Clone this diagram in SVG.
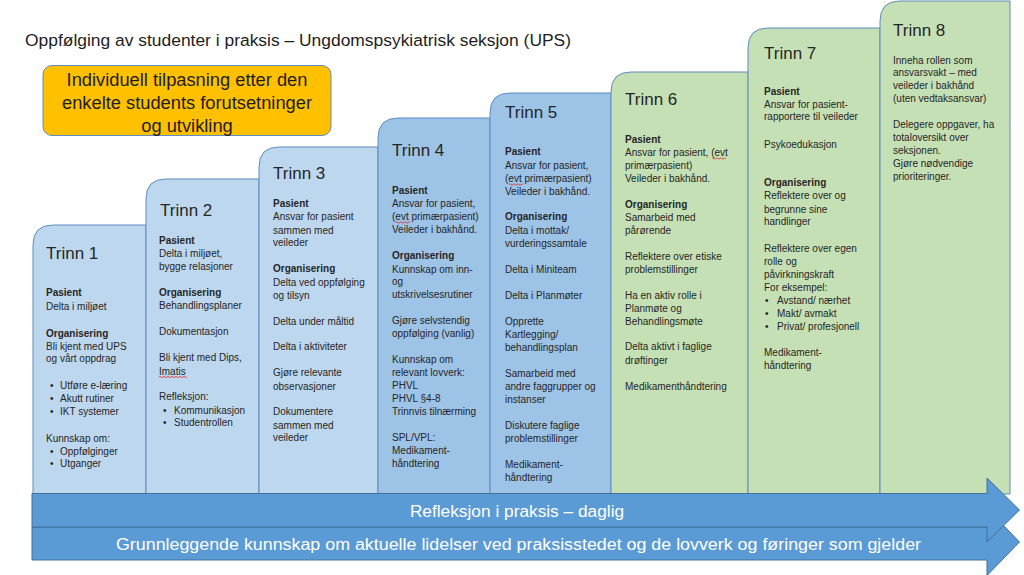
<svg xmlns="http://www.w3.org/2000/svg" width="1024" height="575" viewBox="0 0 1024 575">
<style>
text{font-family:"Liberation Sans",Arial,sans-serif;fill:#262626}
.t{font-size:17.4px;fill:#1e1e1e}
.hd{font-size:17px}
.b{font-size:10px}
.bb{font-size:10px;font-weight:bold}
.c1{fill:#BDD7EE;stroke:#5E8CC0;stroke-width:1}
.c2{fill:#9DC3E6;stroke:#5E8CC0;stroke-width:1}
.c3{fill:#C5E0B4;stroke:#5E8CC0;stroke-width:1}
.arr{fill:#5B9BD5;stroke:#41719C;stroke-width:1}
.at{font-size:17.3px;fill:#ffffff;text-anchor:middle}
.yt{font-size:18.3px;fill:#1e1e1e;text-anchor:middle}
.sq{fill:none;stroke:#E03030;stroke-width:0.8}
</style>

<text class="t" x="25" y="46" textLength="546" lengthAdjust="spacingAndGlyphs">Oppfølging av studenter i praksis – Ungdomspsykiatrisk seksjon (UPS)</text>

<g id="box-individuell">
<rect x="43" y="65.5" width="288" height="70" rx="9" ry="9" fill="#FFC000" stroke="#5E8CC0" stroke-width="1"/>
<text class="yt" x="187" y="85.5">Individuell tilpasning etter den</text>
<text class="yt" x="187" y="108.5">enkelte students forutsetninger</text>
<text class="yt" x="187" y="132">og utvikling</text>
</g>

<g id="trinn1">
<path class="c1" d="M33 494 V245 Q33 225 53 225 H146 V494 Z"/>
<text class="hd" x="46" y="259">Trinn 1</text>
<text class="bb" x="46" y="296">Pasient</text>
<text class="b" x="46" y="309.5">Delta i miljøet</text>
<text class="bb" x="46" y="336.5">Organisering</text>
<text class="b" x="46" y="349.5">Bli kjent med UPS</text>
<text class="b" x="46" y="362">og vårt oppdrag</text>
<text class="b" x="50" y="388.5">•</text><text class="b" x="60" y="388.5">Utføre e-læring</text>
<text class="b" x="50" y="401.5">•</text><text class="b" x="60" y="401.5">Akutt rutiner</text>
<text class="b" x="50" y="414.5">•</text><text class="b" x="60" y="414.5">IKT systemer</text>
<text class="b" x="46" y="442">Kunnskap om:</text>
<text class="b" x="50" y="454.5">•</text><text class="b" x="60" y="454.5">Oppfølginger</text>
<text class="b" x="50" y="467">•</text><text class="b" x="60" y="467">Utganger</text>
</g>

<g id="trinn2">
<path class="c1" d="M146 494 V199 Q146 179 166 179 H259 V494 Z"/>
<text class="hd" x="160" y="216">Trinn 2</text>
<text class="bb" x="159" y="244">Pasient</text>
<text class="b" x="159" y="257">Delta i miljøet,</text>
<text class="b" x="159" y="270">bygge relasjoner</text>
<text class="bb" x="159" y="296">Organisering</text>
<text class="b" x="159" y="309">Behandlingsplaner</text>
<text class="b" x="159" y="335">Dokumentasjon</text>
<text class="b" x="159" y="361">Bli kjent med Dips,</text>
<text class="b" x="159" y="374.5">Imatis</text>
<path class="sq" d="M159 377 q1 -1.2 2 0 t2 0 t2 0 t2 0 t2 0 t2 0 t2 0 t2 0 t2 0 t2 0 t2 0 t2 0 t2 0 t2 0"/>
<text class="b" x="159" y="400">Refleksjon:</text>
<text class="b" x="163" y="413.5">•</text><text class="b" x="174" y="413.5">Kommunikasjon</text>
<text class="b" x="163" y="426">•</text><text class="b" x="174" y="426">Studentrollen</text>
</g>

<g id="trinn3">
<path class="c1" d="M259 494 V167 Q259 147 279 147 H378 V494 Z"/>
<text class="hd" x="273" y="179">Trinn 3</text>
<text class="bb" x="273" y="207">Pasient</text>
<text class="b" x="273" y="220">Ansvar for pasient</text>
<text class="b" x="273" y="233.5">sammen med</text>
<text class="b" x="273" y="246">veileder</text>
<text class="bb" x="273" y="272">Organisering</text>
<text class="b" x="273" y="285.5">Delta ved oppfølging</text>
<text class="b" x="273" y="298.5">og tilsyn</text>
<text class="b" x="273" y="324.5">Delta under måltid</text>
<text class="b" x="273" y="350">Delta i aktiviteter</text>
<text class="b" x="273" y="376">Gjøre relevante</text>
<text class="b" x="273" y="389.5">observasjoner</text>
<text class="b" x="273" y="415">Dokumentere</text>
<text class="b" x="273" y="428.5">sammen med</text>
<text class="b" x="273" y="441">veileder</text>
</g>

<g id="trinn4">
<path class="c2" d="M378 494 V138 Q378 118 398 118 H490 V494 Z"/>
<text class="hd" x="392" y="155.5">Trinn 4</text>
<text class="bb" x="392" y="193.5">Pasient</text>
<text class="b" x="392" y="207">Ansvar for pasient,</text>
<text class="b" x="392" y="220">(evt primærpasient)</text>
<path class="sq" d="M396 222.5 q1 -1.2 2 0 t2 0 t2 0 t2 0 t2 0 t2 0 t2 0"/>
<text class="b" x="392" y="233">Veileder i bakhånd.</text>
<text class="bb" x="392" y="259">Organisering</text>
<text class="b" x="392" y="272.5">Kunnskap om inn-</text>
<text class="b" x="392" y="285">og</text>
<text class="b" x="392" y="298">utskrivelsesrutiner</text>
<text class="b" x="392" y="324">Gjøre selvstendig</text>
<text class="b" x="392" y="337">oppfølging (vanlig)</text>
<text class="b" x="392" y="363">Kunnskap om</text>
<text class="b" x="392" y="376">relevant lovverk:</text>
<text class="b" x="392" y="389">PHVL</text>
<text class="b" x="392" y="402">PHVL §4-8</text>
<text class="b" x="392" y="414.5">Trinnvis tilnærming</text>
<text class="b" x="392" y="440.5">SPL/VPL:</text>
<text class="b" x="392" y="454">Medikament-</text>
<text class="b" x="392" y="466.5">håndtering</text>
</g>

<g id="trinn5">
<path class="c2" d="M490 494 V113 Q490 93 510 93 H611 V494 Z"/>
<text class="hd" x="505" y="118">Trinn 5</text>
<text class="bb" x="505" y="155">Pasient</text>
<text class="b" x="505" y="169">Ansvar for pasient,</text>
<text class="b" x="505" y="182">(evt primærpasient)</text>
<path class="sq" d="M509 184.5 q1 -1.2 2 0 t2 0 t2 0 t2 0 t2 0 t2 0 t2 0"/>
<text class="b" x="505" y="194.5">Veileder i bakhånd.</text>
<text class="bb" x="505" y="220">Organisering</text>
<text class="b" x="505" y="233.5">Delta i mottak/</text>
<text class="b" x="505" y="247">vurderingssamtale</text>
<text class="b" x="505" y="273">Delta i Miniteam</text>
<text class="b" x="505" y="298.5">Delta i Planmøter</text>
<text class="b" x="505" y="324.5">Opprette</text>
<text class="b" x="505" y="338">Kartlegging/</text>
<text class="b" x="505" y="350.5">behandlingsplan</text>
<text class="b" x="505" y="377">Samarbeid med</text>
<text class="b" x="505" y="390">andre faggrupper og</text>
<text class="b" x="505" y="403">instanser</text>
<text class="b" x="505" y="428.5">Diskutere faglige</text>
<text class="b" x="505" y="442">problemstillinger</text>
<text class="b" x="505" y="468">Medikament-</text>
<text class="b" x="505" y="481">håndtering</text>
</g>

<g id="trinn6">
<path class="c3" d="M611 494 V92 Q611 72 631 72 H748 V494 Z"/>
<text class="hd" x="625" y="104.5">Trinn 6</text>
<text class="bb" x="625" y="143">Pasient</text>
<text class="b" x="625" y="156">Ansvar for pasient, (evt</text>
<path class="sq" d="M712 158.5 q1 -1.2 2 0 t2 0 t2 0 t2 0 t2 0 t2 0 t2 0"/>
<text class="b" x="625" y="169">primærpasient)</text>
<text class="b" x="625" y="182">Veileder i bakhånd.</text>
<text class="bb" x="625" y="208">Organisering</text>
<text class="b" x="625" y="220.5">Samarbeid med</text>
<text class="b" x="625" y="233.5">pårørende</text>
<text class="b" x="625" y="259.5">Reflektere over etiske</text>
<text class="b" x="625" y="272.5">problemstillinger</text>
<text class="b" x="625" y="298.5">Ha en aktiv rolle i</text>
<text class="b" x="625" y="312">Planmøte og</text>
<text class="b" x="625" y="324.5">Behandlingsmøte</text>
<text class="b" x="625" y="350">Delta aktivt i faglige</text>
<text class="b" x="625" y="363.5">drøftinger</text>
<text class="b" x="625" y="389.5">Medikamenthåndtering</text>
</g>

<g id="trinn7">
<path class="c3" d="M748 494 V48 Q748 28 768 28 H880 V494 Z"/>
<text class="hd" x="764" y="59">Trinn 7</text>
<text class="bb" x="764" y="94.5">Pasient</text>
<text class="b" x="764" y="108">Ansvar for pasient-</text>
<text class="b" x="764" y="120">rapportere til veileder</text>
<text class="b" x="764" y="147.5">Psykoedukasjon</text>
<text class="bb" x="764" y="186">Organisering</text>
<text class="b" x="764" y="199">Reflektere over og</text>
<text class="b" x="764" y="212.5">begrunne sine</text>
<text class="b" x="764" y="225">handlinger</text>
<text class="b" x="764" y="252">Reflektere over egen</text>
<text class="b" x="764" y="264.5">rolle og</text>
<text class="b" x="764" y="277.5">påvirkningskraft</text>
<text class="b" x="764" y="291">For eksempel:</text>
<text class="b" x="765" y="303.5">•</text><text class="b" x="777" y="303.5">Avstand/ nærhet</text>
<text class="b" x="765" y="317">•</text><text class="b" x="777" y="317">Makt/ avmakt</text>
<text class="b" x="765" y="329.5">•</text><text class="b" x="777" y="329.5">Privat/ profesjonell</text>
<text class="b" x="764" y="356">Medikament-</text>
<text class="b" x="764" y="369">håndtering</text>
</g>

<g id="trinn8">
<path class="c3" d="M880 494 V21 Q880 1 900 1 H1010 V494 Z"/>
<text class="hd" x="893" y="36">Trinn 8</text>
<text class="b" x="893" y="63.5">Inneha rollen som</text>
<text class="b" x="893" y="76">ansvarsvakt – med</text>
<text class="b" x="893" y="89">veileder i bakhånd</text>
<text class="b" x="893" y="102">(uten vedtaksansvar)</text>
<text class="b" x="893" y="128">Delegere oppgaver, ha</text>
<text class="b" x="893" y="141">totaloversikt over</text>
<text class="b" x="893" y="154">seksjonen.</text>
<text class="b" x="893" y="167">Gjøre nødvendige</text>
<text class="b" x="893" y="180">prioriteringer.</text>
</g>

<g id="connectors">
<g id="arrow-grunnleggende">
<path class="arr" d="M32 527 H987 V508.5 L1019.5 542 L987 575.5 V560 H32 Z"/>
<text class="at" x="518.5" y="550" textLength="805" lengthAdjust="spacingAndGlyphs">Grunnleggende kunnskap om aktuelle lidelser ved praksisstedet og de lovverk og føringer som gjelder</text>
</g>
<g id="arrow-refleksjon">
<path class="arr" d="M32 493.5 H987 V478 L1019.5 510 L987 542 V527 H32 Z"/>
<text class="at" x="517" y="517">Refleksjon i praksis – daglig</text>
</g>
</g>
</svg>
